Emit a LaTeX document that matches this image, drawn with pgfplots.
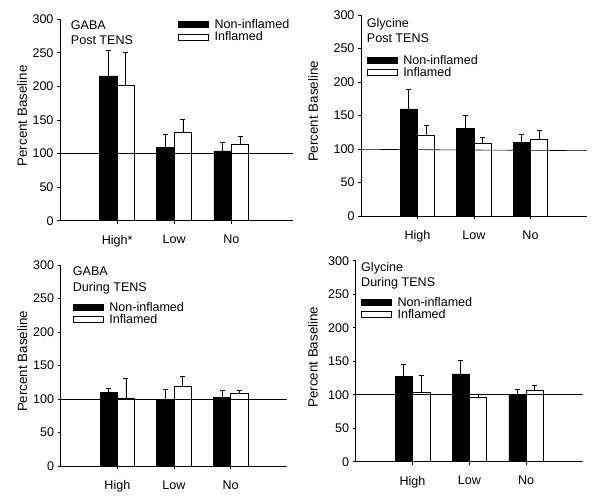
\documentclass[border=0pt]{standalone}
\usepackage{fontspec}
\setmainfont{Liberation Sans}
\usepackage{pgfplots}
\pgfplotsset{compat=1.18}

\newcommand{\fs}{\fontsize{12.6}{14}\selectfont}
\newcommand{\fl}{\fontsize{13.4}{15}\selectfont}

\pgfplotsset{
  panel/.style={
    scale only axis, anchor=south west,
    height=201bp,
    xmin=0, xmax=4, ymin=0, ymax=300,
    axis x line*=bottom, axis y line*=left,
    axis line style={black, line width=0.8bp},
    xtick={1,2,3}, ytick={0,50,...,300},
    tick align=outside, major tick length=3bp,
    tick style={black, line width=0.8bp},
    /pgf/number format/assume math mode=true,
    tick label style={font=\fs},
    yticklabel style={xshift=0bp},
    xticklabel style={yshift=-8bp},
    ylabel={Percent Baseline},
    label style={font=\fl},
    legend cell align=left,
    legend style={draw=none, fill=none, inner sep=0pt, outer sep=0pt,
      anchor=north west, font=\fs, row sep=0.5bp, column sep=6bp,
      nodes={inner ysep=0.5bp, inner xsep=0bp}},
    clip=false,
  },
  bars/.style={ybar, bar width=0.305, bar shift=0pt,
    line width=0.6bp, draw=black,
    error bars/.cd, y dir=plus, y explicit,
    error bar style={line width=0.8bp, black},
    error mark options={rotate=90, mark size=2.5bp, line width=0.8bp, black},
    /pgfplots/.cd},
  nonb/.style={bars, fill=black,
    legend image code/.code={\draw[fill=black, draw=black, line width=0.6bp] (0bp,-3bp) rectangle (30bp,3bp);}},
  infb/.style={bars, fill=white,
    legend image code/.code={\draw[fill=white, draw=black, line width=0.6bp] (0bp,-3bp) rectangle (30bp,3bp);}},
  refl/.style={black, line width=0.6bp, forget plot},
}

\begin{document}
\begin{tikzpicture}
\path[use as bounding box] (0bp,0bp) rectangle (601bp,498bp);

% GABA post TENS
\begin{axis}[panel, at={(60bp,277.3bp)}, width=233bp, height=201.4bp, xmax=4.08,
  xticklabels={High*,Low,No},
  ylabel style={at={(axis description cs:-0.163,0.52)}, anchor=center},
  legend style={at={(axis description cs:0.5064,1.0015)}}]
\addplot[nonb] coordinates {(0.8475,215.6) +- (0,38.4) (1.8475,109) +- (0,19.7) (2.8475,104) +- (0,12.7)};
\addplot[infb] coordinates {(1.1525,201.7) +- (0,49.3) (2.1525,131.6) +- (0,18.9) (3.1525,114) +- (0,12)};
\addplot[refl] coordinates {(0,100) (4.08,100)};
\legend{Non-inflamed, Inflamed}
\end{axis}

% Glycine post TENS
\begin{axis}[panel, at={(361bp,282bp)}, width=226bp,
  xticklabels={High,Low,No},
  ylabel style={at={(axis description cs:-0.212,0.52)}, anchor=center},
  legend style={at={(axis description cs:0.025,0.803)}}]
\addplot[nonb] coordinates {(0.8475,159.7) +- (0,29.8) (1.8475,130.3) +- (0,19.7) (2.8475,109.4) +- (0,13)};
\addplot[infb] coordinates {(1.1525,120.4) +- (0,14.9) (2.1525,108.5) +- (0,8.5) (3.1525,113.9) +- (0,13.9)};
\addplot[refl] coordinates {(0,99.5) (4,97.5)};
\legend{Non-inflamed, Inflamed}
\end{axis}

% GABA during TENS
\begin{axis}[panel, at={(60.7bp,32bp)}, width=226.6bp,
  xticklabels={High,Low,No},
  ylabel style={at={(axis description cs:-0.169,0.52)}, anchor=center},
  legend style={at={(axis description cs:0.053,0.818)}}]
\addplot[nonb] coordinates {(0.8475,109.8) +- (0,5.5) (1.8475,99.8) +- (0,14.5) (2.8475,101.8) +- (0,10.5)};
\addplot[infb] coordinates {(1.1525,101.3) +- (0,30) (2.1525,118.8) +- (0,14.5) (3.1525,108.3) +- (0,4.5)};
\addplot[refl] coordinates {(0,100) (4,100)};
\legend{Non-inflamed, Inflamed}
\end{axis}

% Glycine during TENS
\begin{axis}[panel, at={(355.7bp,36.3bp)}, width=227.3bp,
  xticklabels={High,Low,No},
  ylabel style={at={(axis description cs:-0.188,0.52)}, anchor=center},
  legend style={at={(axis description cs:0.023,0.822)}}]
\addplot[nonb] coordinates {(0.8475,127.2) +- (0,17.8) (1.8475,131.1) +- (0,20.4) (2.8475,99.9) +- (0,7.9)};
\addplot[infb] coordinates {(1.1525,104.3) +- (0,24.9) (2.1525,95.4) +- (0,4.5) (3.1525,106.8) +- (0,7.5)};
\addplot[refl] coordinates {(0,100) (4,100)};
\legend{Non-inflamed, Inflamed}
\end{axis}

% panel titles
\begin{scope}[every node/.style={anchor=base west, inner sep=0pt, font=\fs}]
\node at (70.7bp,468bp) {GABA};
\node at (70.7bp,453bp) {Post TENS};
\node at (366.7bp,470.7bp) {Glycine};
\node at (366.7bp,455.3bp) {Post TENS};
\node at (72.7bp,222bp) {GABA};
\node at (72.7bp,206.3bp) {During TENS};
\node at (361bp,226.7bp) {Glycine};
\node at (361bp,211.3bp) {During TENS};
\end{scope}
\end{tikzpicture}
\end{document}
